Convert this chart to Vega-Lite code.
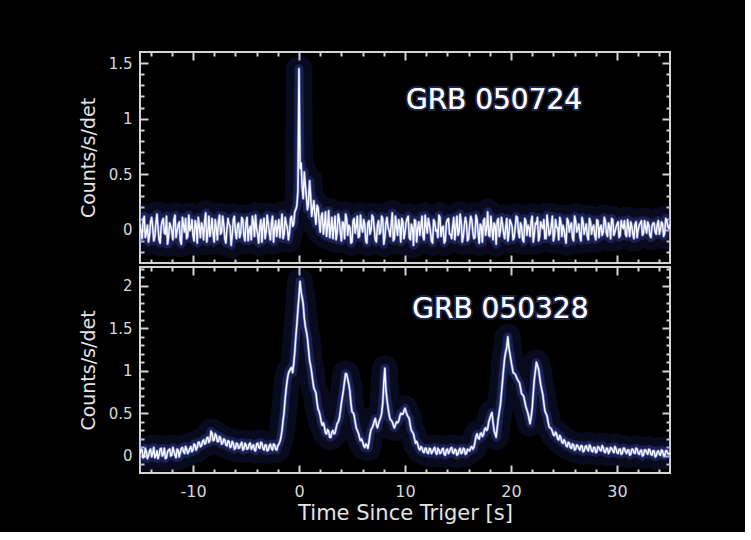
{
  "$schema": "https://vega.github.io/schema/vega-lite/v6.json",
  "background": "#000000",
  "autosize": {"type": "pad"},
  "padding": {"left": 78, "top": 50, "right": 73, "bottom": 8},
  "config": {
    "view": {"stroke": "#d4d4d4", "strokeWidth": 2},
    "axis": {"grid": false, "domain": false, "tickColor": "#d4d4d4", "tickWidth": 2, "labelColor": "#d8d8d8", "labelFont": "DejaVu Sans", "titleColor": "#e4e4e4", "titleFont": "DejaVu Sans", "titleFontWeight": "normal", "labelExpr": "'' + datum.value"}
  },
  "datasets": {
    "a": [
      {"t":-15.0,"v":0.05},{"t":-14.8,"v":-0.08},{"t":-14.6,"v":0.12},{"t":-14.4,"v":-0.03},{"t":-14.2,"v":-0.11},{"t":-14.0,"v":0.07},{"t":-13.8,"v":0.02},{"t":-13.6,"v":-0.06},{"t":-13.4,"v":0.14},{"t":-13.2,"v":-0.09},
      {"t":-13.0,"v":0.03},{"t":-12.8,"v":0.10},{"t":-12.6,"v":-0.04},{"t":-12.4,"v":-0.13},{"t":-12.2,"v":0.06},{"t":-12.0,"v":-0.01},{"t":-11.8,"v":0.09},{"t":-11.6,"v":-0.07},{"t":-11.4,"v":0.04},{"t":-11.2,"v":-0.10},
      {"t":-11.0,"v":0.11},{"t":-10.8,"v":-0.02},{"t":-10.6,"v":-0.08},{"t":-10.4,"v":0.13},{"t":-10.2,"v":0.01},{"t":-10.0,"v":-0.05},{"t":-9.8,"v":0.08},{"t":-9.6,"v":-0.12},{"t":-9.4,"v":0.03},{"t":-9.2,"v":0.06},
      {"t":-9.0,"v":-0.09},{"t":-8.8,"v":0.15},{"t":-8.6,"v":-0.03},{"t":-8.4,"v":-0.06},{"t":-8.2,"v":0.10},{"t":-8.0,"v":-0.11},{"t":-7.8,"v":0.02},{"t":-7.6,"v":0.07},{"t":-7.4,"v":-0.04},{"t":-7.2,"v":0.12},
      {"t":-7.0,"v":-0.08},{"t":-6.8,"v":0.00},{"t":-6.6,"v":0.05},{"t":-6.4,"v":-0.14},{"t":-6.2,"v":0.09},{"t":-6.0,"v":-0.02},{"t":-5.8,"v":0.04},{"t":-5.6,"v":-0.07},{"t":-5.4,"v":0.11},{"t":-5.2,"v":-0.05},
      {"t":-5.0,"v":0.07},{"t":-4.8,"v":-0.10},{"t":-4.6,"v":0.03},{"t":-4.4,"v":0.12},{"t":-4.2,"v":-0.06},{"t":-4.0,"v":0.01},{"t":-3.8,"v":-0.12},{"t":-3.6,"v":0.09},{"t":-3.4,"v":0.04},{"t":-3.2,"v":-0.08},
      {"t":-3.0,"v":0.13},{"t":-2.8,"v":-0.03},{"t":-2.6,"v":0.06},{"t":-2.4,"v":-0.11},{"t":-2.2,"v":0.08},{"t":-2.0,"v":0.02},{"t":-1.8,"v":-0.07},{"t":-1.6,"v":0.14},{"t":-1.4,"v":-0.04},{"t":-1.2,"v":0.05},
      {"t":-1.0,"v":-0.09},{"t":-0.8,"v":0.10},{"t":-0.6,"v":0.03},{"t":-0.4,"v":0.16},{"t":-0.2,"v":0.22},{"t":-0.1,"v":0.35},{"t":0.0,"v":1.45},{"t":0.1,"v":0.55},{"t":0.2,"v":0.60},{"t":0.4,"v":0.28},
      {"t":0.6,"v":0.40},{"t":0.8,"v":0.18},{"t":1.0,"v":0.44},{"t":1.2,"v":0.12},{"t":1.4,"v":0.26},{"t":1.6,"v":0.05},{"t":1.8,"v":0.20},{"t":2.0,"v":-0.02},{"t":2.2,"v":0.15},{"t":2.4,"v":0.04},
      {"t":2.6,"v":-0.06},{"t":2.8,"v":0.17},{"t":3.0,"v":0.01},{"t":3.2,"v":-0.08},{"t":3.4,"v":0.12},{"t":3.6,"v":-0.03},{"t":3.8,"v":0.09},{"t":4.0,"v":-0.10},{"t":4.2,"v":0.06},{"t":4.4,"v":0.14},
      {"t":4.6,"v":-0.05},{"t":4.8,"v":0.02},{"t":5.0,"v":-0.11},{"t":5.2,"v":0.10},{"t":5.4,"v":0.03},{"t":5.6,"v":-0.07},{"t":5.8,"v":0.13},{"t":6.0,"v":-0.02},{"t":6.2,"v":0.05},{"t":6.4,"v":-0.12},
      {"t":6.6,"v":0.08},{"t":6.8,"v":0.00},{"t":7.0,"v":0.11},{"t":7.2,"v":-0.09},{"t":7.4,"v":0.04},{"t":7.6,"v":-0.04},{"t":7.8,"v":0.12},{"t":8.0,"v":-0.13},{"t":8.2,"v":0.06},{"t":8.4,"v":0.02},
      {"t":8.6,"v":-0.06},{"t":8.8,"v":0.15},{"t":9.0,"v":-0.08},{"t":9.2,"v":0.03},{"t":9.4,"v":0.09},{"t":9.6,"v":-0.11},{"t":9.8,"v":0.07},{"t":10.0,"v":-0.03},{"t":10.2,"v":0.10},{"t":10.4,"v":-0.07},
      {"t":10.6,"v":0.05},{"t":10.8,"v":-0.14},{"t":11.0,"v":0.08},{"t":11.2,"v":0.01},{"t":11.4,"v":-0.05},{"t":11.6,"v":0.12},{"t":11.8,"v":-0.09},{"t":12.0,"v":0.04},{"t":12.2,"v":0.10},{"t":12.4,"v":-0.02},
      {"t":12.6,"v":-0.12},{"t":12.8,"v":0.07},{"t":13.0,"v":0.00},{"t":13.2,"v":0.13},{"t":13.4,"v":-0.06},{"t":13.6,"v":0.03},{"t":13.8,"v":-0.10},{"t":14.0,"v":0.09},{"t":14.2,"v":-0.04},{"t":14.4,"v":-0.08},
      {"t":14.6,"v":0.11},{"t":14.8,"v":0.02},{"t":15.0,"v":-0.05},{"t":15.2,"v":0.14},{"t":15.4,"v":-0.11},{"t":15.6,"v":0.04},{"t":15.8,"v":0.06},{"t":16.0,"v":-0.08},{"t":16.2,"v":0.12},{"t":16.4,"v":-0.02},
      {"t":16.6,"v":-0.07},{"t":16.8,"v":0.09},{"t":17.0,"v":-0.12},{"t":17.2,"v":0.03},{"t":17.4,"v":0.08},{"t":17.6,"v":-0.05},{"t":17.8,"v":0.16},{"t":18.0,"v":-0.06},{"t":18.2,"v":0.01},{"t":18.4,"v":0.06},
      {"t":18.6,"v":-0.13},{"t":18.8,"v":0.10},{"t":19.0,"v":-0.01},{"t":19.2,"v":0.05},{"t":19.4,"v":-0.08},{"t":19.6,"v":0.10},{"t":19.8,"v":-0.04},{"t":20.0,"v":0.06},{"t":20.2,"v":-0.09},{"t":20.4,"v":0.02},
      {"t":20.6,"v":0.11},{"t":20.8,"v":-0.07},{"t":21.0,"v":0.03},{"t":21.2,"v":-0.11},{"t":21.4,"v":0.08},{"t":21.6,"v":0.04},{"t":21.8,"v":-0.06},{"t":22.0,"v":0.12},{"t":22.2,"v":-0.04},{"t":22.4,"v":0.05},
      {"t":22.6,"v":-0.10},{"t":22.8,"v":0.07},{"t":23.0,"v":0.01},{"t":23.2,"v":-0.08},{"t":23.4,"v":0.13},{"t":23.6,"v":-0.05},{"t":23.8,"v":0.04},{"t":24.0,"v":-0.10},{"t":24.2,"v":0.09},{"t":24.4,"v":0.02},
      {"t":24.6,"v":0.11},{"t":24.8,"v":-0.06},{"t":25.0,"v":0.00},{"t":25.2,"v":-0.12},{"t":25.4,"v":0.08},{"t":25.6,"v":0.03},{"t":25.8,"v":-0.07},{"t":26.0,"v":0.12},{"t":26.2,"v":-0.02},{"t":26.4,"v":0.05},
      {"t":26.6,"v":-0.10},{"t":26.8,"v":0.07},{"t":27.0,"v":0.01},{"t":27.2,"v":-0.06},{"t":27.4,"v":0.10},{"t":27.6,"v":-0.04},{"t":27.8,"v":0.04},{"t":28.0,"v":-0.09},{"t":28.2,"v":0.08},{"t":28.4,"v":0.02},
      {"t":28.6,"v":-0.05},{"t":28.8,"v":0.11},{"t":29.0,"v":-0.03},{"t":29.2,"v":0.06},{"t":29.4,"v":-0.08},{"t":29.6,"v":0.09},{"t":29.8,"v":-0.02},{"t":30.0,"v":0.05},{"t":30.2,"v":-0.07},{"t":30.4,"v":0.08},
      {"t":30.6,"v":0.01},{"t":30.8,"v":-0.04},{"t":31.0,"v":0.09},{"t":31.2,"v":-0.06},{"t":31.4,"v":0.03},{"t":31.6,"v":-0.08},{"t":31.8,"v":0.07},{"t":32.0,"v":0.00},{"t":32.2,"v":0.06},{"t":32.4,"v":-0.05},
      {"t":32.6,"v":0.08},{"t":32.8,"v":-0.03},{"t":33.0,"v":0.04},{"t":33.2,"v":-0.07},{"t":33.4,"v":0.06},{"t":33.6,"v":-0.02},{"t":33.8,"v":0.05},{"t":34.0,"v":-0.04},{"t":34.2,"v":0.07},{"t":34.4,"v":-0.06},
      {"t":34.6,"v":0.10},{"t":34.8,"v":0.03},{"t":35.0,"v":0.05},
      {"t":-14.9,"v":-0.02},{"t":-14.7,"v":0.09},{"t":-14.5,"v":-0.07},{"t":-14.3,"v":0.04},{"t":-14.1,"v":-0.05},{"t":-13.9,"v":0.11},{"t":-13.7,"v":-0.10},{"t":-13.5,"v":0.06},{"t":-13.3,"v":0.02},{"t":-13.1,"v":-0.12},
      {"t":-12.9,"v":0.08},{"t":-12.7,"v":-0.03},{"t":-12.5,"v":0.12},{"t":-12.3,"v":-0.06},{"t":-12.1,"v":0.03},{"t":-11.9,"v":-0.09},{"t":-11.7,"v":0.13},{"t":-11.5,"v":-0.01},{"t":-11.3,"v":0.07},{"t":-11.1,"v":-0.13},
      {"t":-10.9,"v":0.04},{"t":-10.7,"v":0.10},{"t":-10.5,"v":-0.06},{"t":-10.3,"v":-0.01},{"t":-10.1,"v":0.09},{"t":-9.9,"v":-0.10},{"t":-9.7,"v":0.05},{"t":-9.5,"v":0.11},{"t":-9.3,"v":-0.07},{"t":-9.1,"v":0.02},
      {"t":-8.9,"v":0.08},{"t":-8.7,"v":-0.11},{"t":-8.5,"v":0.12},{"t":-8.3,"v":0.01},{"t":-8.1,"v":-0.04},{"t":-7.9,"v":0.09},{"t":-7.7,"v":-0.09},{"t":-7.5,"v":0.13},{"t":-7.3,"v":-0.02},{"t":-7.1,"v":0.05},
      {"t":-6.9,"v":-0.12},{"t":-6.7,"v":0.10},{"t":-6.5,"v":0.03},{"t":-6.3,"v":-0.05},{"t":-6.1,"v":0.12},{"t":-5.9,"v":-0.08},{"t":-5.7,"v":0.06},{"t":-5.5,"v":-0.03},{"t":-5.3,"v":0.09},{"t":-5.1,"v":-0.10},
      {"t":-4.9,"v":0.11},{"t":-4.7,"v":0.00},{"t":-4.5,"v":-0.09},{"t":-4.3,"v":0.07},{"t":-4.1,"v":0.13},{"t":-3.9,"v":-0.04},{"t":-3.7,"v":0.03},{"t":-3.5,"v":-0.11},{"t":-3.3,"v":0.10},{"t":-3.1,"v":-0.02},
      {"t":-2.9,"v":0.06},{"t":-2.7,"v":-0.09},{"t":-2.5,"v":0.12},{"t":-2.3,"v":0.01},{"t":-2.1,"v":-0.06},{"t":-1.9,"v":0.09},{"t":-1.7,"v":0.03},{"t":-1.5,"v":-0.08},{"t":-1.3,"v":0.11},{"t":-1.1,"v":0.02},
      {"t":-0.9,"v":-0.03},{"t":-0.7,"v":0.12},{"t":-0.5,"v":0.05},{"t":-0.3,"v":0.18},
      {"t":0.3,"v":0.38},{"t":0.5,"v":0.52},{"t":0.7,"v":0.30},{"t":0.9,"v":0.24},{"t":1.1,"v":0.30},{"t":1.3,"v":0.19},{"t":1.5,"v":0.14},{"t":1.7,"v":0.22},{"t":1.9,"v":0.08},
      {"t":2.1,"v":0.12},{"t":2.3,"v":-0.04},{"t":2.5,"v":0.16},{"t":2.7,"v":0.03},{"t":2.9,"v":-0.07},{"t":3.1,"v":0.11},{"t":3.3,"v":0.02},{"t":3.5,"v":-0.09},{"t":3.7,"v":0.14},{"t":3.9,"v":-0.02},
      {"t":4.1,"v":0.07},{"t":4.3,"v":-0.08},{"t":4.5,"v":0.10},{"t":4.7,"v":0.04},{"t":4.9,"v":-0.12},{"t":5.1,"v":0.08},{"t":5.3,"v":-0.03},{"t":5.5,"v":0.12},{"t":5.7,"v":-0.06},{"t":5.9,"v":0.02},
      {"t":6.1,"v":0.09},{"t":6.3,"v":-0.10},{"t":6.5,"v":0.06},{"t":6.7,"v":-0.04},{"t":6.9,"v":0.13},{"t":7.1,"v":0.01},{"t":7.3,"v":-0.11},{"t":7.5,"v":0.08},{"t":7.7,"v":-0.02},{"t":7.9,"v":0.10},
      {"t":8.1,"v":-0.07},{"t":8.3,"v":0.11},{"t":8.5,"v":-0.01},{"t":8.7,"v":0.05},{"t":8.9,"v":-0.10},{"t":9.1,"v":0.12},{"t":9.3,"v":-0.05},{"t":9.5,"v":0.03},{"t":9.7,"v":0.10},{"t":9.9,"v":-0.08},
      {"t":10.1,"v":0.06},{"t":10.3,"v":0.12},{"t":10.5,"v":-0.09},{"t":10.7,"v":0.02},{"t":10.9,"v":0.09},{"t":11.1,"v":-0.11},{"t":11.3,"v":0.07},{"t":11.5,"v":0.03},{"t":11.7,"v":-0.06},{"t":11.9,"v":0.13},
      {"t":12.1,"v":-0.03},{"t":12.3,"v":0.05},{"t":12.5,"v":-0.10},{"t":12.7,"v":0.09},{"t":12.9,"v":-0.01},{"t":13.1,"v":-0.07},{"t":13.3,"v":0.11},{"t":13.5,"v":0.02},{"t":13.7,"v":-0.12},{"t":13.9,"v":0.06},
      {"t":14.1,"v":0.10},{"t":14.3,"v":-0.04},{"t":14.5,"v":0.03},{"t":14.7,"v":-0.09},{"t":14.9,"v":0.12},{"t":15.1,"v":-0.02},{"t":15.3,"v":0.07},{"t":15.5,"v":-0.06},{"t":15.7,"v":0.11},{"t":15.9,"v":-0.10},
      {"t":16.1,"v":0.04},{"t":16.3,"v":0.09},{"t":16.5,"v":-0.08},{"t":16.7,"v":0.13},{"t":16.9,"v":-0.03},{"t":17.1,"v":0.05},{"t":17.3,"v":-0.11},{"t":17.5,"v":0.10},{"t":17.7,"v":0.01},{"t":17.9,"v":-0.05},
      {"t":18.1,"v":0.12},{"t":18.3,"v":-0.09},{"t":18.5,"v":0.04},{"t":18.7,"v":0.08},{"t":18.9,"v":-0.06},{"t":19.1,"v":0.11},{"t":19.3,"v":-0.03},{"t":19.5,"v":0.02},{"t":19.7,"v":-0.10},{"t":19.9,"v":0.09},
      {"t":20.1,"v":0.03},{"t":20.3,"v":-0.07},{"t":20.5,"v":0.12},{"t":20.7,"v":-0.02},{"t":20.9,"v":0.06},{"t":21.1,"v":-0.09},{"t":21.3,"v":0.10},{"t":21.5,"v":-0.05},{"t":21.7,"v":0.02},{"t":21.9,"v":0.08},
      {"t":22.1,"v":-0.11},{"t":22.3,"v":0.06},{"t":22.5,"v":0.11},{"t":22.7,"v":-0.06},{"t":22.9,"v":0.03},{"t":23.1,"v":0.09},{"t":23.3,"v":-0.08},{"t":23.5,"v":0.05},{"t":23.7,"v":-0.03},{"t":23.9,"v":0.12},
      {"t":24.1,"v":-0.05},{"t":24.3,"v":0.02},{"t":24.5,"v":-0.09},{"t":24.7,"v":0.07},{"t":24.9,"v":0.04},{"t":25.1,"v":-0.07},{"t":25.3,"v":0.10},{"t":25.5,"v":-0.02},{"t":25.7,"v":0.06},{"t":25.9,"v":-0.10},
      {"t":26.1,"v":0.08},{"t":26.3,"v":0.01},{"t":26.5,"v":-0.06},{"t":26.7,"v":0.11},{"t":26.9,"v":-0.04},{"t":27.1,"v":0.05},{"t":27.3,"v":-0.09},{"t":27.5,"v":0.07},{"t":27.7,"v":0.02},{"t":27.9,"v":-0.05},
      {"t":28.1,"v":0.09},{"t":28.3,"v":-0.07},{"t":28.5,"v":0.04},{"t":28.7,"v":-0.02},{"t":28.9,"v":0.08},{"t":29.1,"v":-0.06},{"t":29.3,"v":0.03},{"t":29.5,"v":0.10},{"t":29.7,"v":-0.05},{"t":29.9,"v":0.02},
      {"t":30.1,"v":0.07},{"t":30.3,"v":-0.05},{"t":30.5,"v":0.03},{"t":30.7,"v":0.08},{"t":30.9,"v":-0.06},{"t":31.1,"v":0.02},{"t":31.3,"v":0.07},{"t":31.5,"v":-0.04},{"t":31.7,"v":0.05},{"t":31.9,"v":-0.07},
      {"t":32.1,"v":0.04},{"t":32.3,"v":0.08},{"t":32.5,"v":-0.03},{"t":32.7,"v":0.02},{"t":32.9,"v":0.07},{"t":33.1,"v":-0.05},{"t":33.3,"v":0.03},{"t":33.5,"v":0.06},{"t":33.7,"v":-0.04},{"t":33.9,"v":0.08},
      {"t":34.1,"v":0.00},{"t":34.3,"v":0.05},{"t":34.5,"v":-0.03},{"t":34.7,"v":0.08},{"t":34.9,"v":0.01}
    ],
    "b": [
      {"t":-15.0,"v":0.02},{"t":-14.8,"v":0.07},{"t":-14.6,"v":-0.01},{"t":-14.4,"v":0.05},{"t":-14.2,"v":0.00},{"t":-14.0,"v":0.08},{"t":-13.8,"v":0.03},{"t":-13.6,"v":-0.02},{"t":-13.4,"v":0.06},{"t":-13.2,"v":0.01},
      {"t":-13.0,"v":0.09},{"t":-12.8,"v":0.02},{"t":-12.6,"v":-0.03},{"t":-12.4,"v":0.05},{"t":-12.2,"v":0.08},{"t":-12.0,"v":0.01},{"t":-11.8,"v":0.06},{"t":-11.6,"v":-0.02},{"t":-11.4,"v":0.07},{"t":-11.2,"v":0.04},
      {"t":-11.0,"v":0.10},{"t":-10.8,"v":0.03},{"t":-10.6,"v":0.08},{"t":-10.4,"v":0.05},{"t":-10.2,"v":0.11},{"t":-10.0,"v":0.07},{"t":-9.8,"v":0.13},{"t":-9.6,"v":0.10},{"t":-9.4,"v":0.16},{"t":-9.2,"v":0.12},
      {"t":-9.0,"v":0.19},{"t":-8.8,"v":0.15},{"t":-8.6,"v":0.22},{"t":-8.4,"v":0.18},{"t":-8.2,"v":0.27},{"t":-8.0,"v":0.19},{"t":-7.8,"v":0.24},{"t":-7.6,"v":0.17},{"t":-7.4,"v":0.21},{"t":-7.2,"v":0.15},
      {"t":-7.0,"v":0.19},{"t":-6.8,"v":0.12},{"t":-6.6,"v":0.17},{"t":-6.4,"v":0.11},{"t":-6.2,"v":0.15},{"t":-6.0,"v":0.09},{"t":-5.8,"v":0.14},{"t":-5.6,"v":0.10},{"t":-5.4,"v":0.16},{"t":-5.2,"v":0.08},
      {"t":-5.0,"v":0.13},{"t":-4.8,"v":0.09},{"t":-4.6,"v":0.15},{"t":-4.4,"v":0.11},{"t":-4.2,"v":0.07},{"t":-4.0,"v":0.14},{"t":-3.8,"v":0.10},{"t":-3.6,"v":0.16},{"t":-3.4,"v":0.09},{"t":-3.2,"v":0.13},
      {"t":-3.0,"v":0.06},{"t":-2.8,"v":0.12},{"t":-2.6,"v":0.09},{"t":-2.4,"v":0.14},{"t":-2.2,"v":0.08},{"t":-2.0,"v":0.12},{"t":-1.8,"v":0.17},{"t":-1.6,"v":0.30},{"t":-1.4,"v":0.52},{"t":-1.2,"v":0.80},
      {"t":-1.0,"v":0.97},{"t":-0.8,"v":1.02},{"t":-0.6,"v":0.98},{"t":-0.4,"v":1.22},{"t":-0.2,"v":1.55},{"t":0.0,"v":1.88},{"t":0.1,"v":2.05},{"t":0.2,"v":1.92},{"t":0.4,"v":1.78},{"t":0.6,"v":1.52},
      {"t":0.8,"v":1.38},{"t":1.0,"v":1.12},{"t":1.2,"v":0.98},{"t":1.4,"v":0.80},{"t":1.6,"v":0.74},{"t":1.8,"v":0.55},{"t":2.0,"v":0.47},{"t":2.2,"v":0.36},{"t":2.4,"v":0.34},{"t":2.6,"v":0.26},
      {"t":2.8,"v":0.29},{"t":3.0,"v":0.22},{"t":3.2,"v":0.30},{"t":3.4,"v":0.27},{"t":3.6,"v":0.38},{"t":3.8,"v":0.44},{"t":4.0,"v":0.62},{"t":4.2,"v":0.78},{"t":4.4,"v":0.97},{"t":4.6,"v":0.90},
      {"t":4.8,"v":0.76},{"t":5.0,"v":0.52},{"t":5.2,"v":0.48},{"t":5.4,"v":0.33},{"t":5.6,"v":0.27},{"t":5.8,"v":0.18},{"t":6.0,"v":0.17},{"t":6.2,"v":0.10},{"t":6.4,"v":0.13},{"t":6.6,"v":0.16},
      {"t":6.8,"v":0.31},{"t":7.0,"v":0.36},{"t":7.2,"v":0.44},{"t":7.4,"v":0.33},{"t":7.6,"v":0.42},{"t":7.8,"v":0.50},{"t":8.0,"v":0.86},{"t":8.1,"v":1.03},{"t":8.2,"v":0.78},{"t":8.4,"v":0.57},
      {"t":8.6,"v":0.43},{"t":8.8,"v":0.40},{"t":9.0,"v":0.33},{"t":9.2,"v":0.40},{"t":9.4,"v":0.41},{"t":9.6,"v":0.50},{"t":9.8,"v":0.49},{"t":10.0,"v":0.56},{"t":10.2,"v":0.48},{"t":10.4,"v":0.44},
      {"t":10.6,"v":0.30},{"t":10.8,"v":0.26},{"t":11.0,"v":0.15},{"t":11.2,"v":0.14},{"t":11.4,"v":0.07},{"t":11.6,"v":0.10},{"t":11.8,"v":0.04},{"t":12.0,"v":0.09},{"t":12.2,"v":0.03},{"t":12.4,"v":0.08},
      {"t":12.6,"v":0.05},{"t":12.8,"v":0.10},{"t":13.0,"v":0.02},{"t":13.2,"v":0.07},{"t":13.4,"v":0.04},{"t":13.6,"v":0.09},{"t":13.8,"v":0.01},{"t":14.0,"v":0.08},{"t":14.2,"v":0.05},{"t":14.4,"v":0.10},
      {"t":14.6,"v":0.03},{"t":14.8,"v":0.07},{"t":15.0,"v":0.02},{"t":15.2,"v":0.09},{"t":15.4,"v":0.04},{"t":15.6,"v":0.08},{"t":15.8,"v":0.03},{"t":16.0,"v":0.07},{"t":16.2,"v":0.10},{"t":16.4,"v":0.08},
      {"t":16.6,"v":0.16},{"t":16.8,"v":0.26},{"t":17.0,"v":0.20},{"t":17.2,"v":0.27},{"t":17.4,"v":0.25},{"t":17.6,"v":0.33},{"t":17.8,"v":0.32},{"t":18.0,"v":0.44},{"t":18.2,"v":0.51},{"t":18.4,"v":0.30},
      {"t":18.6,"v":0.22},{"t":18.8,"v":0.44},{"t":19.0,"v":0.60},{"t":19.2,"v":0.88},{"t":19.4,"v":1.15},{"t":19.6,"v":1.28},{"t":19.7,"v":1.40},{"t":19.8,"v":1.27},{"t":20.0,"v":1.12},{"t":20.2,"v":0.98},
      {"t":20.4,"v":0.96},{"t":20.6,"v":0.90},{"t":20.8,"v":0.86},{"t":21.0,"v":0.73},{"t":21.2,"v":0.70},{"t":21.4,"v":0.58},{"t":21.6,"v":0.50},{"t":21.8,"v":0.38},{"t":22.0,"v":0.56},{"t":22.2,"v":0.90},
      {"t":22.4,"v":1.10},{"t":22.6,"v":1.02},{"t":22.8,"v":0.84},{"t":23.0,"v":0.72},{"t":23.2,"v":0.53},{"t":23.4,"v":0.47},{"t":23.6,"v":0.34},{"t":23.8,"v":0.32},{"t":24.0,"v":0.25},{"t":24.2,"v":0.28},
      {"t":24.4,"v":0.20},{"t":24.6,"v":0.24},{"t":24.8,"v":0.16},{"t":25.0,"v":0.19},{"t":25.2,"v":0.12},{"t":25.4,"v":0.16},{"t":25.6,"v":0.10},{"t":25.8,"v":0.14},{"t":26.0,"v":0.07},{"t":26.2,"v":0.13},
      {"t":26.4,"v":0.09},{"t":26.6,"v":0.12},{"t":26.8,"v":0.05},{"t":27.0,"v":0.11},{"t":27.2,"v":0.08},{"t":27.4,"v":0.13},{"t":27.6,"v":0.06},{"t":27.8,"v":0.10},{"t":28.0,"v":0.04},{"t":28.2,"v":0.11},
      {"t":28.4,"v":0.07},{"t":28.6,"v":0.12},{"t":28.8,"v":0.05},{"t":29.0,"v":0.09},{"t":29.2,"v":0.03},{"t":29.4,"v":0.10},{"t":29.6,"v":0.06},{"t":29.8,"v":0.11},{"t":30.0,"v":0.04},{"t":30.2,"v":0.08},
      {"t":30.4,"v":0.02},{"t":30.6,"v":0.09},{"t":30.8,"v":0.05},{"t":31.0,"v":0.07},{"t":31.2,"v":0.01},{"t":31.4,"v":0.08},{"t":31.6,"v":0.04},{"t":31.8,"v":0.09},{"t":32.0,"v":0.03},{"t":32.2,"v":0.06},
      {"t":32.4,"v":0.00},{"t":32.6,"v":0.07},{"t":32.8,"v":0.04},{"t":33.0,"v":0.08},{"t":33.2,"v":0.02},{"t":33.4,"v":0.06},{"t":33.6,"v":-0.01},{"t":33.8,"v":0.05},{"t":34.0,"v":0.02},{"t":34.2,"v":0.07},
      {"t":34.4,"v":0.01},{"t":34.6,"v":0.06},{"t":34.8,"v":0.03},{"t":35.0,"v":0.04},
      {"t":-14.9,"v":0.08},{"t":-14.7,"v":-0.02},{"t":-14.5,"v":0.09},{"t":-14.3,"v":-0.03},{"t":-14.1,"v":0.06},{"t":-13.9,"v":-0.01},{"t":-13.7,"v":0.10},{"t":-13.5,"v":0.00},{"t":-13.3,"v":-0.03},{"t":-13.1,"v":0.08},
      {"t":-12.9,"v":0.00},{"t":-12.7,"v":0.09},{"t":-12.5,"v":-0.02},{"t":-12.3,"v":0.07},{"t":-12.1,"v":0.00},{"t":-11.9,"v":0.10},{"t":-11.7,"v":0.01},{"t":-11.5,"v":0.08},{"t":-11.3,"v":-0.01},{"t":-11.1,"v":0.09},
      {"t":-10.9,"v":0.05},{"t":-10.7,"v":0.11},{"t":-10.5,"v":0.03},{"t":-10.3,"v":0.09},{"t":-10.1,"v":0.05},{"t":-9.9,"v":0.14},{"t":-9.7,"v":0.07},{"t":-9.5,"v":0.16},{"t":-9.3,"v":0.11},{"t":-9.1,"v":0.17},
      {"t":-8.9,"v":0.14},{"t":-8.7,"v":0.21},{"t":-8.5,"v":0.16},{"t":-8.3,"v":0.29},{"t":-8.1,"v":0.18},{"t":-7.9,"v":0.26},{"t":-7.7,"v":0.17},{"t":-7.5,"v":0.23},{"t":-7.3,"v":0.14},{"t":-7.1,"v":0.20},
      {"t":-6.9,"v":0.13},{"t":-6.7,"v":0.18},{"t":-6.5,"v":0.10},{"t":-6.3,"v":0.17},{"t":-6.1,"v":0.08},{"t":-5.9,"v":0.15},{"t":-5.7,"v":0.09},{"t":-5.5,"v":0.14},{"t":-5.3,"v":0.07},{"t":-5.1,"v":0.15},
      {"t":-4.9,"v":0.08},{"t":-4.7,"v":0.14},{"t":-4.5,"v":0.08},{"t":-4.3,"v":0.13},{"t":-4.1,"v":0.06},{"t":-3.9,"v":0.15},{"t":-3.7,"v":0.09},{"t":-3.5,"v":0.15},{"t":-3.3,"v":0.07},{"t":-3.1,"v":0.13},
      {"t":-2.9,"v":0.07},{"t":-2.7,"v":0.14},{"t":-2.5,"v":0.07},{"t":-2.3,"v":0.13},{"t":-2.1,"v":0.07},{"t":-1.9,"v":0.14},{"t":-1.7,"v":0.22},{"t":-1.5,"v":0.42},{"t":-1.3,"v":0.68},{"t":-1.1,"v":0.90},
      {"t":-0.9,"v":1.00},{"t":-0.7,"v":1.04},{"t":-0.5,"v":1.08},{"t":-0.3,"v":1.40},{"t":-0.1,"v":1.72},
      {"t":0.3,"v":1.86},{"t":0.5,"v":1.62},{"t":0.7,"v":1.46},{"t":0.9,"v":1.25},{"t":1.1,"v":1.06},{"t":1.3,"v":0.88},{"t":1.5,"v":0.77},{"t":1.7,"v":0.63},{"t":1.9,"v":0.52},
      {"t":2.1,"v":0.40},{"t":2.3,"v":0.39},{"t":2.5,"v":0.27},{"t":2.7,"v":0.31},{"t":2.9,"v":0.22},{"t":3.1,"v":0.28},{"t":3.3,"v":0.26},{"t":3.5,"v":0.33},{"t":3.7,"v":0.40},{"t":3.9,"v":0.52},
      {"t":4.1,"v":0.70},{"t":4.3,"v":0.88},{"t":4.5,"v":0.96},{"t":4.7,"v":0.84},{"t":4.9,"v":0.62},{"t":5.1,"v":0.51},{"t":5.3,"v":0.40},{"t":5.5,"v":0.30},{"t":5.7,"v":0.22},{"t":5.9,"v":0.20},
      {"t":6.1,"v":0.12},{"t":6.3,"v":0.14},{"t":6.5,"v":0.09},{"t":6.7,"v":0.25},{"t":6.9,"v":0.33},{"t":7.1,"v":0.41},{"t":7.3,"v":0.37},{"t":7.5,"v":0.38},{"t":7.7,"v":0.45},{"t":7.9,"v":0.62},
      {"t":8.3,"v":0.66},{"t":8.5,"v":0.49},{"t":8.7,"v":0.42},{"t":8.9,"v":0.36},{"t":9.1,"v":0.37},{"t":9.3,"v":0.39},{"t":9.5,"v":0.46},{"t":9.7,"v":0.49},
      {"t":9.9,"v":0.53},{"t":10.1,"v":0.52},{"t":10.3,"v":0.46},{"t":10.5,"v":0.36},{"t":10.7,"v":0.28},{"t":10.9,"v":0.20},{"t":11.1,"v":0.17},{"t":11.3,"v":0.09},{"t":11.5,"v":0.11},{"t":11.7,"v":0.05},
      {"t":11.9,"v":0.09},{"t":12.1,"v":0.04},{"t":12.3,"v":0.09},{"t":12.5,"v":0.03},{"t":12.7,"v":0.08},{"t":12.9,"v":0.04},{"t":13.1,"v":0.09},{"t":13.3,"v":0.03},{"t":13.5,"v":0.08},{"t":13.7,"v":0.02},
      {"t":13.9,"v":0.07},{"t":14.1,"v":0.03},{"t":14.3,"v":0.09},{"t":14.5,"v":0.04},{"t":14.7,"v":0.08},{"t":14.9,"v":0.01},{"t":15.1,"v":0.07},{"t":15.3,"v":0.03},{"t":15.5,"v":0.09},{"t":15.7,"v":0.02},
      {"t":15.9,"v":0.08},{"t":16.1,"v":0.06},{"t":16.3,"v":0.11},{"t":16.5,"v":0.10},{"t":16.7,"v":0.23},{"t":16.9,"v":0.21},{"t":17.1,"v":0.26},{"t":17.3,"v":0.23},{"t":17.5,"v":0.31},{"t":17.7,"v":0.30},
      {"t":17.9,"v":0.40},{"t":18.1,"v":0.48},{"t":18.3,"v":0.40},{"t":18.5,"v":0.26},{"t":18.7,"v":0.33},{"t":18.9,"v":0.52},{"t":19.1,"v":0.74},{"t":19.3,"v":1.02},{"t":19.5,"v":1.22},
      {"t":19.9,"v":1.20},{"t":20.1,"v":1.05},{"t":20.3,"v":0.97},{"t":20.5,"v":0.93},{"t":20.7,"v":0.88},{"t":20.9,"v":0.80},{"t":21.1,"v":0.72},{"t":21.3,"v":0.64},{"t":21.5,"v":0.54},{"t":21.7,"v":0.44},
      {"t":21.9,"v":0.46},{"t":22.1,"v":0.74},{"t":22.3,"v":1.00},{"t":22.5,"v":1.06},{"t":22.7,"v":0.93},{"t":22.9,"v":0.78},{"t":23.1,"v":0.62},{"t":23.3,"v":0.50},{"t":23.5,"v":0.40},{"t":23.7,"v":0.33},
      {"t":23.9,"v":0.29},{"t":24.1,"v":0.24},{"t":24.3,"v":0.26},{"t":24.5,"v":0.19},{"t":24.7,"v":0.22},{"t":24.9,"v":0.15},{"t":25.1,"v":0.17},{"t":25.3,"v":0.11},{"t":25.5,"v":0.15},{"t":25.7,"v":0.09},
      {"t":25.9,"v":0.13},{"t":26.1,"v":0.08},{"t":26.3,"v":0.12},{"t":26.5,"v":0.07},{"t":26.7,"v":0.12},{"t":26.9,"v":0.06},{"t":27.1,"v":0.12},{"t":27.3,"v":0.06},{"t":27.5,"v":0.11},{"t":27.7,"v":0.05},
      {"t":27.9,"v":0.10},{"t":28.1,"v":0.05},{"t":28.3,"v":0.10},{"t":28.5,"v":0.06},{"t":28.7,"v":0.10},{"t":28.9,"v":0.04},{"t":29.1,"v":0.09},{"t":29.3,"v":0.05},{"t":29.5,"v":0.09},{"t":29.7,"v":0.04},
      {"t":29.9,"v":0.09},{"t":30.1,"v":0.03},{"t":30.3,"v":0.08},{"t":30.5,"v":0.03},{"t":30.7,"v":0.09},{"t":30.9,"v":0.03},{"t":31.1,"v":0.07},{"t":31.3,"v":0.02},{"t":31.5,"v":0.08},{"t":31.7,"v":0.03},
      {"t":31.9,"v":0.08},{"t":32.1,"v":0.02},{"t":32.3,"v":0.07},{"t":32.5,"v":0.01},{"t":32.7,"v":0.07},{"t":32.9,"v":0.02},{"t":33.1,"v":0.07},{"t":33.3,"v":0.01},{"t":33.5,"v":0.06},{"t":33.7,"v":0.00},
      {"t":33.9,"v":0.06},{"t":34.1,"v":0.01},{"t":34.3,"v":0.06},{"t":34.5,"v":0.00},{"t":34.7,"v":0.06},{"t":34.9,"v":0.02}
    ]
  },
  "spacing": 0,
  "vconcat": [
    {
      "width": 530,
      "height": 211,
      "data": {"name": "a"},
      "resolve": {"axis": {"x": "independent", "y": "independent"}},
      "layer": [
        {
          "mark": {"type": "line", "color": "#3f52e0", "strokeWidth": 26, "opacity": 0.13, "strokeJoin": "round", "strokeCap": "round", "clip": true},
          "encoding": {
            "x": {"field": "t", "type": "quantitative", "scale": {"domain": [-15, 35], "nice": false, "zero": false},
              "axis": {"orient": "bottom", "values": [-10, 0, 10, 20, 30], "tickSize": -8, "labels": false, "title": null}},
            "y": {"field": "v", "type": "quantitative", "scale": {"domain": [-0.3, 1.6], "nice": false, "zero": false},
              "axis": {"orient": "left", "values": [0, 0.5, 1, 1.5], "tickSize": -8, "labelFontSize": 15, "labelPadding": 16, "title": "Counts/s/det", "titleFontSize": 19, "titlePadding": 10}}
          }
        },
        {
          "mark": {"type": "line", "color": "#5567ff", "strokeWidth": 9, "opacity": 0.22, "strokeJoin": "round", "strokeCap": "round", "clip": true},
          "encoding": {
            "x": {"field": "t", "type": "quantitative",
              "axis": {"orient": "bottom", "values": [-14, -12, -8, -6, -4, -2, 2, 4, 6, 8, 12, 14, 16, 18, 22, 24, 26, 28, 32, 34], "tickSize": -4, "labels": false, "title": null}},
            "y": {"field": "v", "type": "quantitative",
              "axis": {"orient": "left", "values": [-0.2, -0.1, 0.1, 0.2, 0.3, 0.4, 0.6, 0.7, 0.8, 0.9, 1.1, 1.2, 1.3, 1.4], "tickSize": -4, "labels": false, "title": null}}
          }
        },
        {
          "mark": {"type": "line", "color": "#8f9cff", "strokeWidth": 3, "opacity": 0.55, "strokeJoin": "round", "clip": true},
          "encoding": {
            "x": {"field": "t", "type": "quantitative",
              "axis": {"orient": "top", "values": [-10, 0, 10, 20, 30], "tickSize": -8, "labels": false, "title": null}},
            "y": {"field": "v", "type": "quantitative",
              "axis": {"orient": "right", "values": [0, 0.5, 1, 1.5], "tickSize": -8, "labels": false, "title": null}}
          }
        },
        {
          "mark": {"type": "line", "color": "#f6f8ff", "strokeWidth": 1.5, "strokeJoin": "round", "clip": true},
          "encoding": {
            "x": {"field": "t", "type": "quantitative",
              "axis": {"orient": "top", "values": [-14, -12, -8, -6, -4, -2, 2, 4, 6, 8, 12, 14, 16, 18, 22, 24, 26, 28, 32, 34], "tickSize": -4, "labels": false, "title": null}},
            "y": {"field": "v", "type": "quantitative",
              "axis": {"orient": "right", "values": [-0.2, -0.1, 0.1, 0.2, 0.3, 0.4, 0.6, 0.7, 0.8, 0.9, 1.1, 1.2, 1.3, 1.4], "tickSize": -4, "labels": false, "title": null}}
          }
        },
        {
          "data": {"values": [{"t": 18.4, "v": 1.16, "label": "GRB 050724"}]},
          "mark": {"type": "text", "font": "DejaVu Sans", "fontSize": 28, "align": "center", "baseline": "middle", "fill": "#ffffff", "stroke": "#7080ff", "strokeWidth": 4, "strokeOpacity": 0.3},
          "encoding": {
            "x": {"field": "t", "type": "quantitative", "axis": null},
            "y": {"field": "v", "type": "quantitative", "axis": null},
            "text": {"field": "label"}
          }
        },
        {
          "data": {"values": [{"t": 18.4, "v": 1.16, "label": "GRB 050724"}]},
          "mark": {"type": "text", "font": "DejaVu Sans", "fontSize": 28, "align": "center", "baseline": "middle", "fill": "#ffffff"},
          "encoding": {
            "x": {"field": "t", "type": "quantitative", "axis": null},
            "y": {"field": "v", "type": "quantitative", "axis": null},
            "text": {"field": "label"}
          }
        }
      ]
    },
    {
      "width": 530,
      "height": 206,
      "data": {"name": "b"},
      "resolve": {"axis": {"x": "independent", "y": "independent"}},
      "layer": [
        {
          "mark": {"type": "line", "color": "#3f52e0", "strokeWidth": 26, "opacity": 0.13, "strokeJoin": "round", "strokeCap": "round", "clip": true},
          "encoding": {
            "x": {"field": "t", "type": "quantitative", "scale": {"domain": [-15, 35], "nice": false, "zero": false},
              "axis": {"orient": "bottom", "values": [-10, 0, 10, 20, 30], "tickSize": -8, "labelFontSize": 16, "labelPadding": 18, "title": "Time Since Triger [s]", "titleFontSize": 21, "titlePadding": 3}},
            "y": {"field": "v", "type": "quantitative", "scale": {"domain": [-0.2, 2.22], "nice": false, "zero": false},
              "axis": {"orient": "left", "values": [0, 0.5, 1, 1.5, 2], "tickSize": -8, "labelFontSize": 15, "labelPadding": 16, "title": "Counts/s/det", "titleFontSize": 19, "titlePadding": 10}}
          }
        },
        {
          "mark": {"type": "line", "color": "#5567ff", "strokeWidth": 9, "opacity": 0.22, "strokeJoin": "round", "strokeCap": "round", "clip": true},
          "encoding": {
            "x": {"field": "t", "type": "quantitative",
              "axis": {"orient": "bottom", "values": [-14, -12, -8, -6, -4, -2, 2, 4, 6, 8, 12, 14, 16, 18, 22, 24, 26, 28, 32, 34], "tickSize": -4, "labels": false, "title": null}},
            "y": {"field": "v", "type": "quantitative",
              "axis": {"orient": "left", "values": [-0.1, 0.1, 0.2, 0.3, 0.4, 0.6, 0.7, 0.8, 0.9, 1.1, 1.2, 1.3, 1.4, 1.6, 1.7, 1.8, 1.9, 2.1, 2.2], "tickSize": -4, "labels": false, "title": null}}
          }
        },
        {
          "mark": {"type": "line", "color": "#8f9cff", "strokeWidth": 3, "opacity": 0.55, "strokeJoin": "round", "clip": true},
          "encoding": {
            "x": {"field": "t", "type": "quantitative",
              "axis": {"orient": "top", "values": [-10, 0, 10, 20, 30], "tickSize": -8, "labels": false, "title": null}},
            "y": {"field": "v", "type": "quantitative",
              "axis": {"orient": "right", "values": [0, 0.5, 1, 1.5, 2], "tickSize": -8, "labels": false, "title": null}}
          }
        },
        {
          "mark": {"type": "line", "color": "#f6f8ff", "strokeWidth": 1.5, "strokeJoin": "round", "clip": true},
          "encoding": {
            "x": {"field": "t", "type": "quantitative",
              "axis": {"orient": "top", "values": [-14, -12, -8, -6, -4, -2, 2, 4, 6, 8, 12, 14, 16, 18, 22, 24, 26, 28, 32, 34], "tickSize": -4, "labels": false, "title": null}},
            "y": {"field": "v", "type": "quantitative",
              "axis": {"orient": "right", "values": [-0.1, 0.1, 0.2, 0.3, 0.4, 0.6, 0.7, 0.8, 0.9, 1.1, 1.2, 1.3, 1.4, 1.6, 1.7, 1.8, 1.9, 2.1, 2.2], "tickSize": -4, "labels": false, "title": null}}
          }
        },
        {
          "data": {"values": [{"t": 19.0, "v": 1.71, "label": "GRB 050328"}]},
          "mark": {"type": "text", "font": "DejaVu Sans", "fontSize": 28, "align": "center", "baseline": "middle", "fill": "#ffffff", "stroke": "#7080ff", "strokeWidth": 4, "strokeOpacity": 0.3},
          "encoding": {
            "x": {"field": "t", "type": "quantitative", "axis": null},
            "y": {"field": "v", "type": "quantitative", "axis": null},
            "text": {"field": "label"}
          }
        },
        {
          "data": {"values": [{"t": 19.0, "v": 1.71, "label": "GRB 050328"}]},
          "mark": {"type": "text", "font": "DejaVu Sans", "fontSize": 28, "align": "center", "baseline": "middle", "fill": "#ffffff"},
          "encoding": {
            "x": {"field": "t", "type": "quantitative", "axis": null},
            "y": {"field": "v", "type": "quantitative", "axis": null},
            "text": {"field": "label"}
          }
        }
      ]
    }
  ]
}
